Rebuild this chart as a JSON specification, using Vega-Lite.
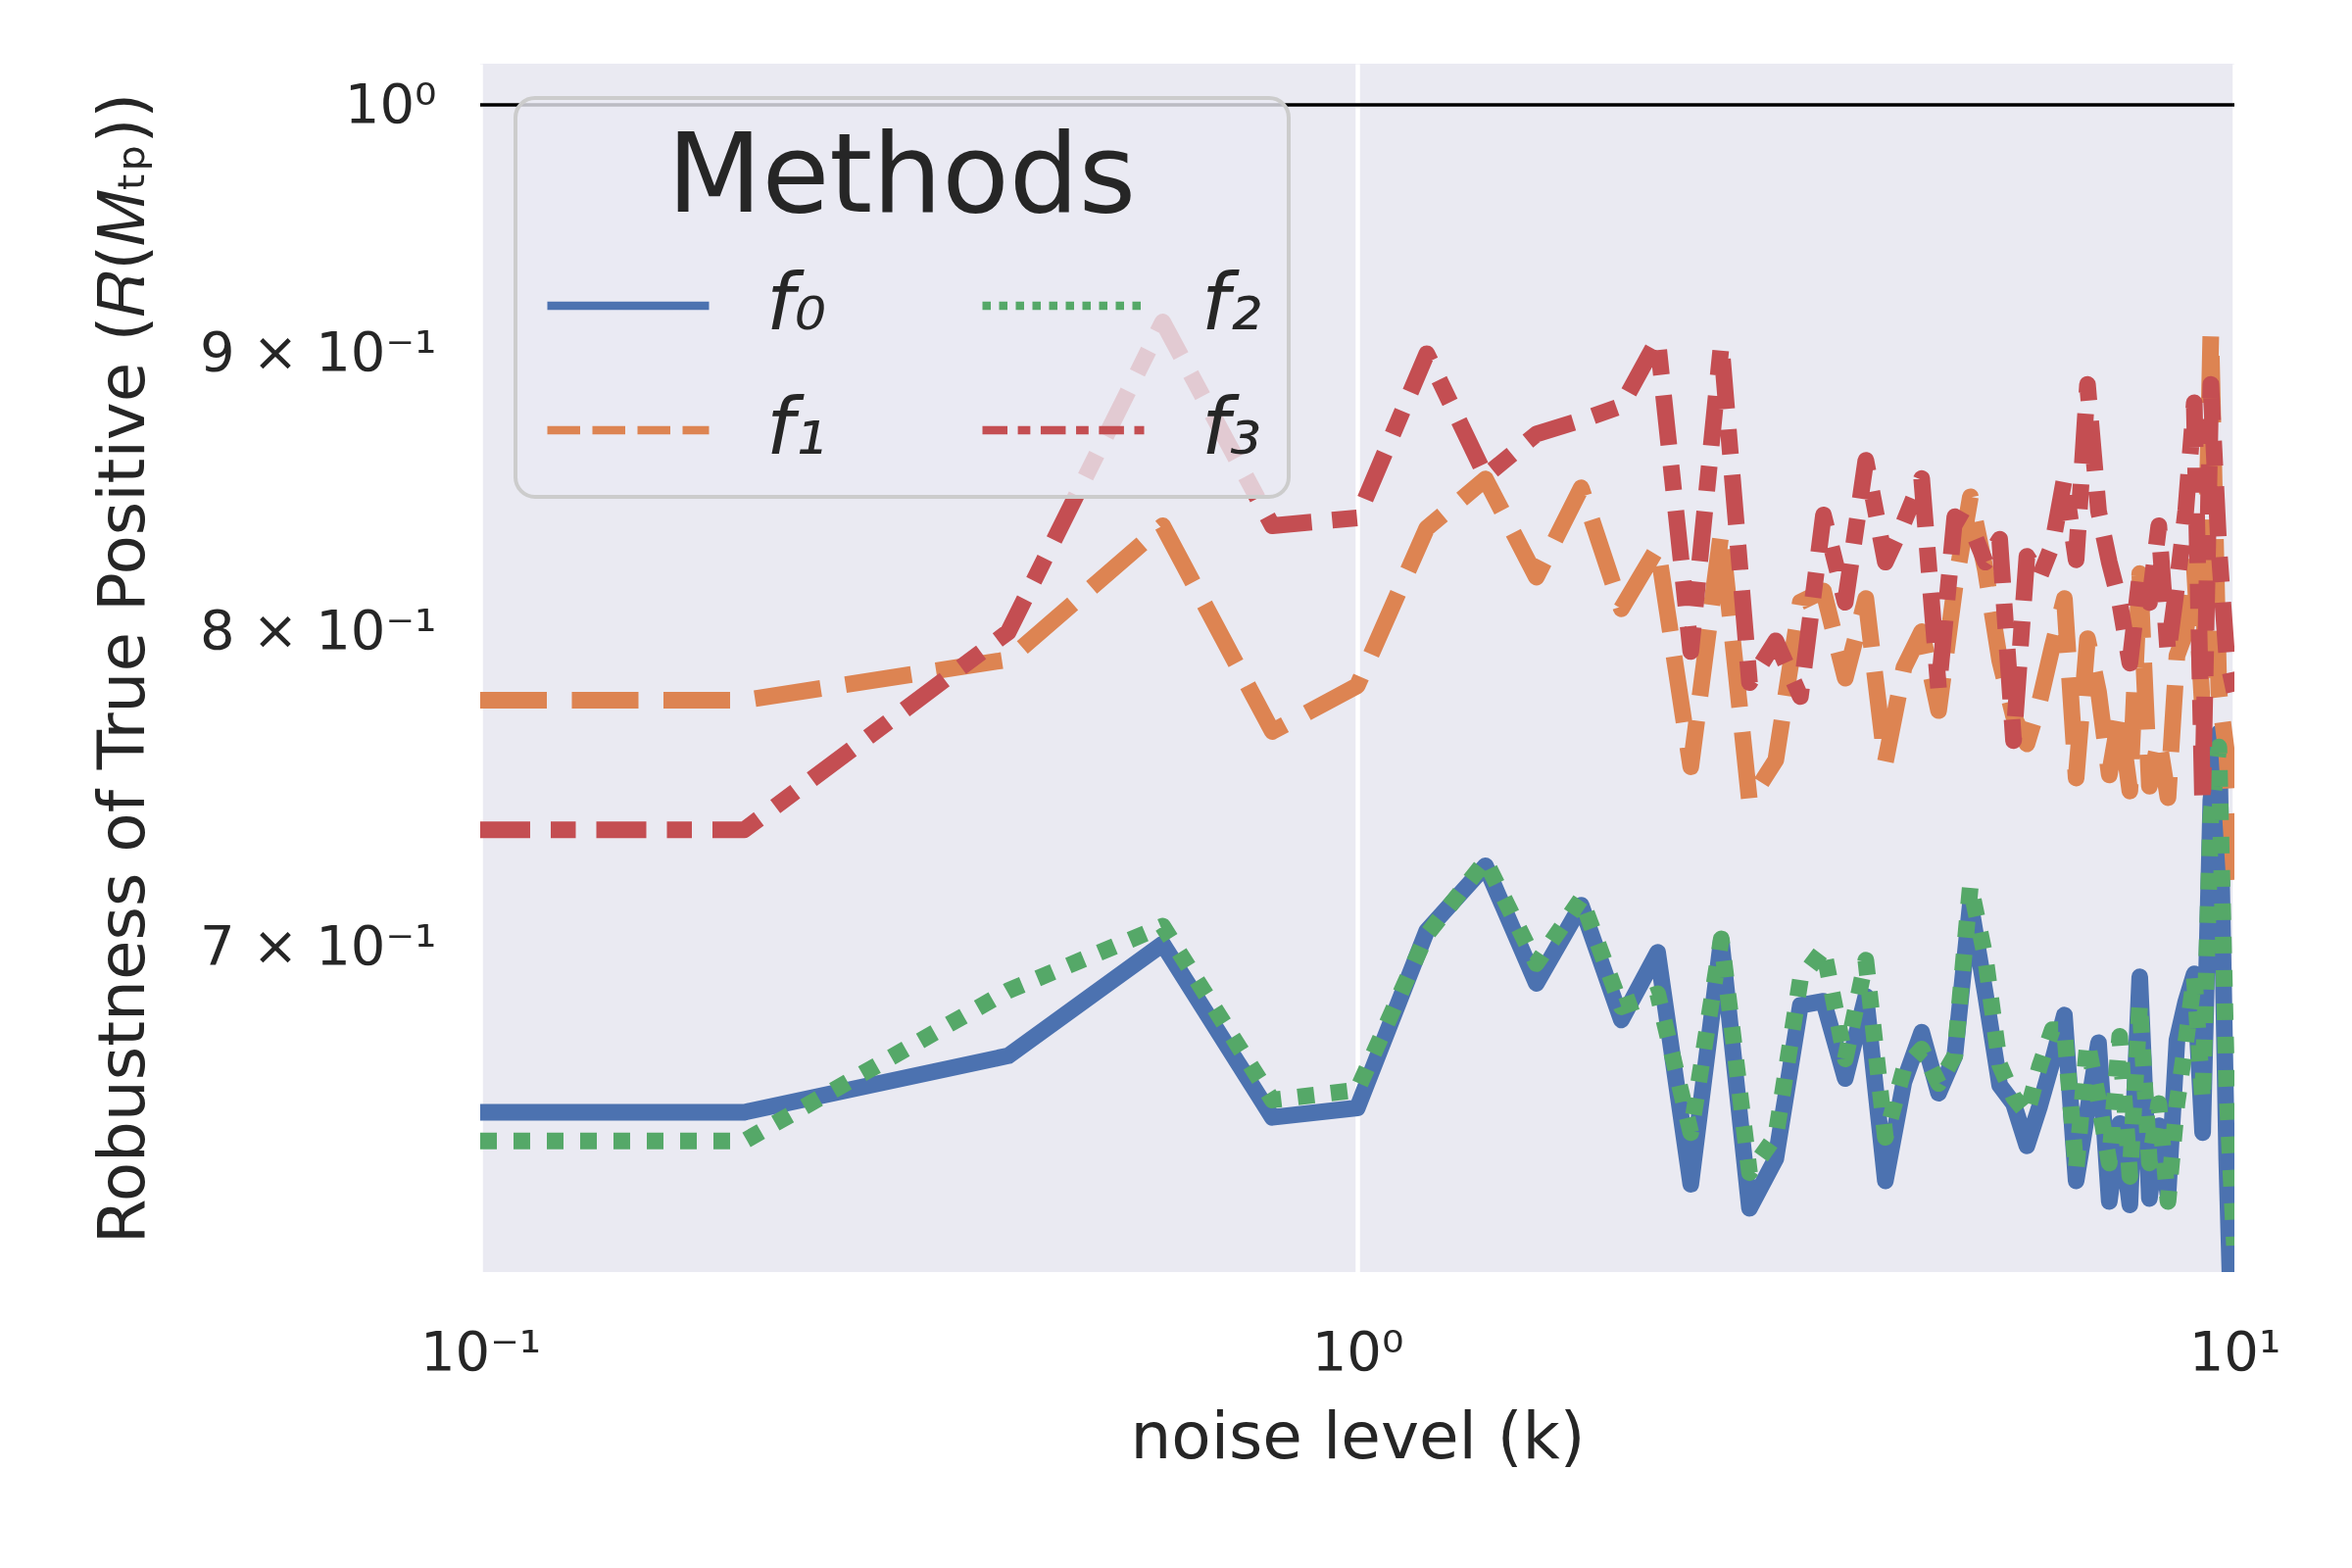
{
  "$schema": "https://vega.github.io/schema/vega-lite/v6.json",
  "width": 1790,
  "height": 1233,
  "autosize": {"type": "none"},
  "padding": {"left": 490, "top": 65, "right": 120, "bottom": 302},
  "background": "white",
  "data": {
    "values": [
      {"k": 0.1, "f0": 0.6528, "f1": 0.7772, "f2": 0.6449, "f3": 0.7357},
      {"k": 0.2, "f0": 0.6528, "f1": 0.7772, "f2": 0.6449, "f3": 0.7357},
      {"k": 0.4, "f0": 0.6686, "f1": 0.7907, "f2": 0.6873, "f3": 0.8000},
      {"k": 0.6, "f0": 0.7010, "f1": 0.8368, "f2": 0.7063, "f3": 0.9122},
      {"k": 0.8, "f0": 0.6514, "f1": 0.7670, "f2": 0.6562, "f3": 0.8368},
      {"k": 1.0, "f0": 0.6540, "f1": 0.7820, "f2": 0.6590, "f3": 0.8396},
      {"k": 1.2, "f0": 0.7049, "f1": 0.8359, "f2": 0.7038, "f3": 0.9000},
      {"k": 1.4, "f0": 0.7246, "f1": 0.8535, "f2": 0.7261, "f3": 0.8546},
      {"k": 1.6, "f0": 0.6894, "f1": 0.8188, "f2": 0.6952, "f3": 0.8699},
      {"k": 1.8, "f0": 0.7126, "f1": 0.8503, "f2": 0.7146, "f3": 0.8750},
      {"k": 2.0, "f0": 0.6788, "f1": 0.8079, "f2": 0.6826, "f3": 0.8803},
      {"k": 2.2, "f0": 0.6985, "f1": 0.8291, "f2": 0.6864, "f3": 0.9054},
      {"k": 2.4, "f0": 0.6332, "f1": 0.7556, "f2": 0.6472, "f3": 0.7934},
      {"k": 2.6, "f0": 0.7020, "f1": 0.8346, "f2": 0.7025, "f3": 0.9035},
      {"k": 2.8, "f0": 0.6268, "f1": 0.7447, "f2": 0.6363, "f3": 0.7830},
      {"k": 3.0, "f0": 0.6401, "f1": 0.7578, "f2": 0.6463, "f3": 0.7970},
      {"k": 3.2, "f0": 0.6830, "f1": 0.8102, "f2": 0.6905, "f3": 0.7784},
      {"k": 3.4, "f0": 0.6842, "f1": 0.8140, "f2": 0.6995, "f3": 0.8406},
      {"k": 3.6, "f0": 0.6622, "f1": 0.7845, "f2": 0.6677, "f3": 0.8101},
      {"k": 3.8, "f0": 0.6856, "f1": 0.8114, "f2": 0.6962, "f3": 0.8603},
      {"k": 4.0, "f0": 0.6341, "f1": 0.7571, "f2": 0.6459, "f3": 0.8240},
      {"k": 4.2, "f0": 0.6613, "f1": 0.7880, "f2": 0.6649, "f3": 0.8381},
      {"k": 4.4, "f0": 0.6753, "f1": 0.8001, "f2": 0.6705, "f3": 0.8537},
      {"k": 4.6, "f0": 0.6581, "f1": 0.7738, "f2": 0.6608, "f3": 0.7808},
      {"k": 4.8, "f0": 0.6686, "f1": 0.8152, "f2": 0.6686, "f3": 0.8400},
      {"k": 5.0, "f0": 0.7131, "f1": 0.8471, "f2": 0.7185, "f3": 0.8368},
      {"k": 5.2, "f0": 0.6865, "f1": 0.8215, "f2": 0.6971, "f3": 0.8240},
      {"k": 5.4, "f0": 0.6603, "f1": 0.7904, "f2": 0.6660, "f3": 0.8320},
      {"k": 5.6, "f0": 0.6552, "f1": 0.7720, "f2": 0.6570, "f3": 0.7640},
      {"k": 5.8, "f0": 0.6436, "f1": 0.7630, "f2": 0.6525, "f3": 0.8260},
      {"k": 6.0, "f0": 0.6546, "f1": 0.7770, "f2": 0.6658, "f3": 0.8190},
      {"k": 6.2, "f0": 0.6670, "f1": 0.7950, "f2": 0.6760, "f3": 0.8300},
      {"k": 6.4, "f0": 0.6802, "f1": 0.8114, "f2": 0.6760, "f3": 0.8537},
      {"k": 6.6, "f0": 0.6341, "f1": 0.7520, "f2": 0.6371, "f3": 0.8248},
      {"k": 6.8, "f0": 0.6531, "f1": 0.7977, "f2": 0.6723, "f3": 0.8884},
      {"k": 7.0, "f0": 0.6723, "f1": 0.7800, "f2": 0.6561, "f3": 0.8420},
      {"k": 7.2, "f0": 0.6286, "f1": 0.7530, "f2": 0.6389, "f3": 0.8240},
      {"k": 7.4, "f0": 0.6497, "f1": 0.7726, "f2": 0.6741, "f3": 0.8100},
      {"k": 7.6, "f0": 0.6277, "f1": 0.7479, "f2": 0.6353, "f3": 0.7895},
      {"k": 7.8, "f0": 0.6913, "f1": 0.8200, "f2": 0.6835, "f3": 0.8190},
      {"k": 8.0, "f0": 0.6294, "f1": 0.7494, "f2": 0.6389, "f3": 0.8100},
      {"k": 8.2, "f0": 0.6491, "f1": 0.7642, "f2": 0.6552, "f3": 0.8368},
      {"k": 8.4, "f0": 0.6303, "f1": 0.7458, "f2": 0.6286, "f3": 0.7927},
      {"k": 8.6, "f0": 0.6730, "f1": 0.7920, "f2": 0.6552, "f3": 0.8160},
      {"k": 8.8, "f0": 0.6840, "f1": 0.8000, "f2": 0.6723, "f3": 0.8420},
      {"k": 9.0, "f0": 0.6922, "f1": 0.8230, "f2": 0.6913, "f3": 0.8815},
      {"k": 9.2, "f0": 0.6472, "f1": 0.7740, "f2": 0.6561, "f3": 0.7438},
      {"k": 9.4, "f0": 0.7450, "f1": 0.9077, "f2": 0.7400, "f3": 0.8884},
      {"k": 9.6, "f0": 0.7665, "f1": 0.7800, "f2": 0.7620, "f3": 0.8290},
      {"k": 9.8, "f0": 0.6400, "f1": 0.7600, "f2": 0.6600, "f3": 0.7920},
      {"k": 10.0, "f0": 0.5700, "f1": 0.7200, "f2": 0.6170, "f3": 0.7800}
    ]
  },
  "layer": [
    {
      "data": {"values": [{"r": 1}]},
      "mark": {"type": "rule", "color": "black", "strokeWidth": 3.3},
      "encoding": {
        "y": {"field": "r", "type": "quantitative", "scale": {"type": "log", "domain": [0.6101, 1.01758], "nice": false, "zero": false}}
      }
    },
    {
      "transform": [
        {"fold": ["f0", "f1", "f2", "f3"], "as": ["method", "r"]}
      ],
      "encoding": {
        "x": {
          "field": "k",
          "type": "quantitative",
          "scale": {"type": "log", "domain": [0.1, 10], "nice": false},
          "axis": {
            "title": "noise level (k)",
            "values": [0.1, 1, 10],
            "labelExpr": "datum.value < 0.5 ? '10⁻¹' : datum.value < 5 ? '10⁰' : '10¹'",
            "labelFlush": false,
            "grid": true,
            "gridColor": "white",
            "gridWidth": 4.5,
            "labelPadding": 55,
            "titlePadding": 27
          }
        },
        "y": {
          "field": "r",
          "type": "quantitative",
          "scale": {"type": "log", "domain": [0.6101, 1.01758], "nice": false, "zero": false},
          "axis": {
            "title": "Robustness of True Positive (𝑅(𝑀ₜₚ))",
            "values": [0.7, 0.8, 0.9, 1],
            "labelExpr": "datum.value > 0.95 ? '10⁰' : format(datum.value * 10, '.0f') + ' × 10⁻¹'",
            "grid": false,
            "labelPadding": 45,
            "titlePadding": 130
          }
        },
        "color": {
          "field": "method",
          "type": "nominal",
          "scale": {"domain": ["f0", "f1", "f2", "f3"], "range": ["#4C72B0", "#DD8452", "#55A868", "#C44E52"]},
          "legend": {
            "title": "Methods",
            "orient": "none",
            "legendX": 36,
            "legendY": 35,
            "columns": 2,
            "direction": "vertical",
            "columnPadding": 142,
            "rowPadding": -8,
            "symbolType": "stroke",
            "symbolSize": 27225,
            "symbolStrokeWidth": 8.5,
            "labelOffset": 54,
            "labelExpr": "replace(replace(replace(replace(datum.label, '0', '₀'), '1', '₁'), '2', '₂'), '3', '₃')",
            "padding": 28,
            "titlePadding": -15,
            "encode": {
              "symbols": {
                "update": {
                  "strokeDash": {"signal": "datum.value == 'f1' ? [33.5, 12.5] : datum.value == 'f2' ? [8.5, 8.5] : datum.value == 'f3' ? [25.5, 10.6, 12.75, 10.6] : [1, 0]"}
                }
              },
              "legend": {
                "update": {"strokeWidth": {"value": 4}}
              }
            }
          }
        }
      },
      "layer": [
        {
          "transform": [{"filter": "datum.method == 'f0'"}],
          "mark": {"type": "line", "strokeWidth": 17, "strokeJoin": "round", "strokeCap": "butt", "clip": true},
          "encoding": {}
        },
        {
          "transform": [{"filter": "datum.method == 'f1'"}],
          "mark": {"type": "line", "strokeWidth": 17, "strokeJoin": "round", "strokeCap": "butt", "strokeDash": [68, 25.5], "clip": true},
          "encoding": {}
        },
        {
          "transform": [{"filter": "datum.method == 'f2'"}],
          "mark": {"type": "line", "strokeWidth": 17, "strokeJoin": "round", "strokeCap": "butt", "strokeDash": [17, 17], "clip": true},
          "encoding": {}
        },
        {
          "transform": [{"filter": "datum.method == 'f3'"}],
          "mark": {"type": "line", "strokeWidth": 17, "strokeJoin": "round", "strokeCap": "butt", "strokeDash": [51, 21, 25.5, 21], "clip": true},
          "encoding": {}
        }
      ]
    }
  ],
  "config": {
    "view": {"fill": "#EAEAF2", "stroke": null},
    "font": "DejaVu Sans",
    "axis": {
      "domain": false,
      "ticks": false,
      "labelFont": "DejaVu Sans",
      "labelFontSize": 56,
      "labelColor": "#262626",
      "labelLimit": 0,
      "titleFont": "DejaVu Sans",
      "titleFontSize": 66,
      "titleFontWeight": "normal",
      "titleColor": "#262626"
    },
    "legend": {
      "titleFont": "DejaVu Sans",
      "titleFontSize": 112,
      "titleFontWeight": "normal",
      "titleColor": "#262626",
      "titleAnchor": "middle",
      "titleLimit": 0,
      "labelFont": "DejaVu Sans",
      "labelFontSize": 81,
      "labelFontStyle": "italic",
      "labelColor": "#262626",
      "fillColor": "rgba(234,234,242,0.8)",
      "strokeColor": "#CCCCCC",
      "cornerRadius": 20,
      "labelLimit": 0
    }
  }
}
